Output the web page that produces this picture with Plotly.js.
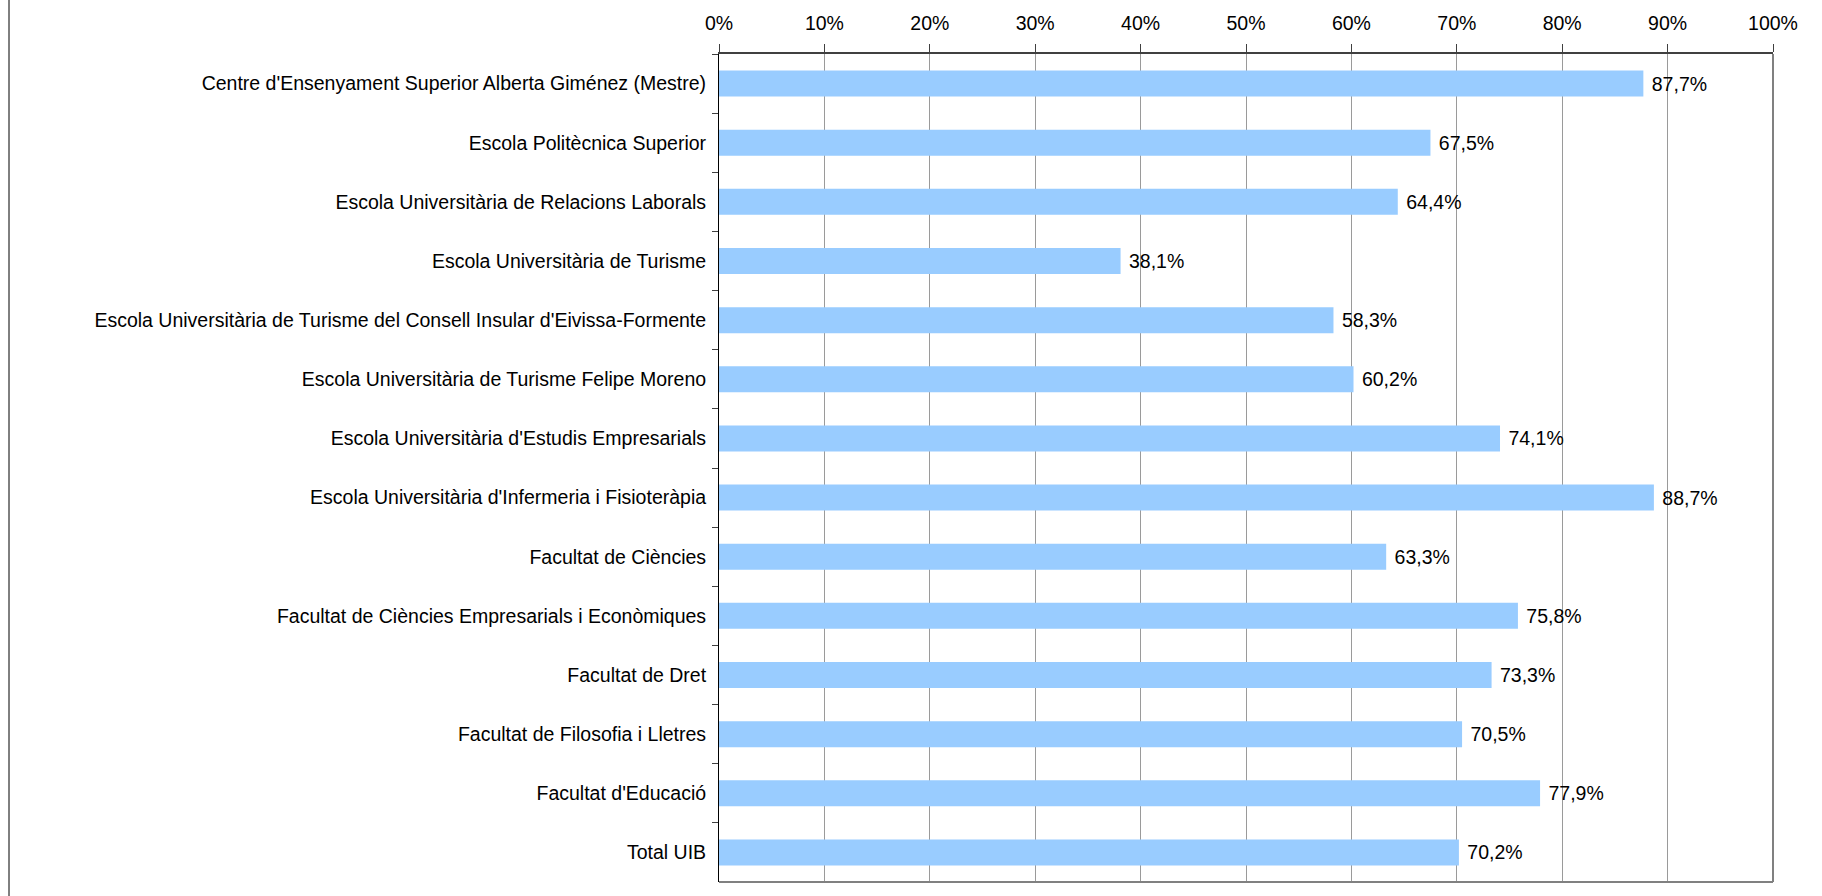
<!DOCTYPE html>
<html>
<head>
<meta charset="utf-8">
<script src="https://cdn.plot.ly/plotly-3.0.1.min.js"></script>
<style>html,body{margin:0;padding:0;background:#fff;}#chart{width:1822px;height:896px;}</style>
</head>
<body>
<div id="chart"></div>
<script>
const categories = [
  "Centre d'Ensenyament Superior Alberta Giménez (Mestre)",
  "Escola Politècnica Superior",
  "Escola Universitària de Relacions Laborals",
  "Escola Universitària de Turisme",
  "Escola Universitària de Turisme del Consell Insular d'Eivissa-Formente",
  "Escola Universitària de Turisme Felipe Moreno",
  "Escola Universitària d'Estudis Empresarials",
  "Escola Universitària d'Infermeria i Fisioteràpia",
  "Facultat de Ciències",
  "Facultat de Ciències Empresarials i Econòmiques",
  "Facultat de Dret",
  "Facultat de Filosofia i Lletres",
  "Facultat d'Educació",
  "Total UIB"
];
const values = [87.7, 67.5, 64.4, 38.1, 58.3, 60.2, 74.1, 88.7, 63.3, 75.8, 73.3, 70.5, 77.9, 70.2];
const tickValues = [0, 10, 20, 30, 40, 50, 60, 70, 80, 90, 100];
const tickLabels = ["0%", "10%", "20%", "30%", "40%", "50%", "60%", "70%", "80%", "90%", "100%"];

const font = {family: "Liberation Sans, Arial, sans-serif", size: 19.5, color: "#000"};

const trace = {
  type: "bar",
  orientation: "h",
  y: categories,
  x: values,
  marker: {color: "#99CCFF", line: {width: 0}},
  text: values.map(v => " " + v.toFixed(1).replace(".", ",") + "%"),
  textposition: "outside",
  textfont: font,
  cliponaxis: false,
  hoverinfo: "skip"
};

const layout = {
  width: 1822,
  height: 896,
  margin: {l: 719, r: 49, t: 54, b: 14},
  paper_bgcolor: "#fff",
  plot_bgcolor: "#fff",
  showlegend: false,
  bargap: 0.56,
  font: font,
  xaxis: {
    side: "top",
    range: [0, 100],
    tickvals: tickValues,
    ticktext: tickLabels,
    ticks: "outside",
    ticklen: 8,
    tickcolor: "#404040",
    showgrid: true,
    gridcolor: "#9a9a9a",
    gridwidth: 1,
    showline: true,
    linecolor: "#404040",
    linewidth: 2,
    zeroline: false,
    tickfont: font,
    ticklabelstandoff: 6,
    fixedrange: true
  },
  yaxis: {
    type: "category",
    autorange: "reversed",
    ticks: "outside",
    tickson: "boundaries",
    ticklen: 6,
    tickcolor: "#404040",
    showline: true,
    linecolor: "#000",
    linewidth: 1,
    showgrid: false,
    zeroline: false,
    tickfont: font,
    ticklabelstandoff: 8,
    fixedrange: true
  },
  shapes: [
    {type: "line", xref: "x domain", yref: "y domain", x0: 0, x1: 1, y0: 0, y1: 0, line: {color: "#808080", width: 2}},
    {type: "line", xref: "x domain", yref: "y domain", x0: 1, x1: 1, y0: 0, y1: 1, line: {color: "#808080", width: 2}},
    {type: "line", xref: "paper", yref: "paper", x0: (9 - 719) / 1054, x1: (9 - 719) / 1054, y0: -14 / 828, y1: 54 / 828 + 1, line: {color: "#000", width: 1}}
  ]
};

Plotly.newPlot("chart", [trace], layout, {displayModeBar: false, staticPlot: true});
</script>
</body>
</html>
